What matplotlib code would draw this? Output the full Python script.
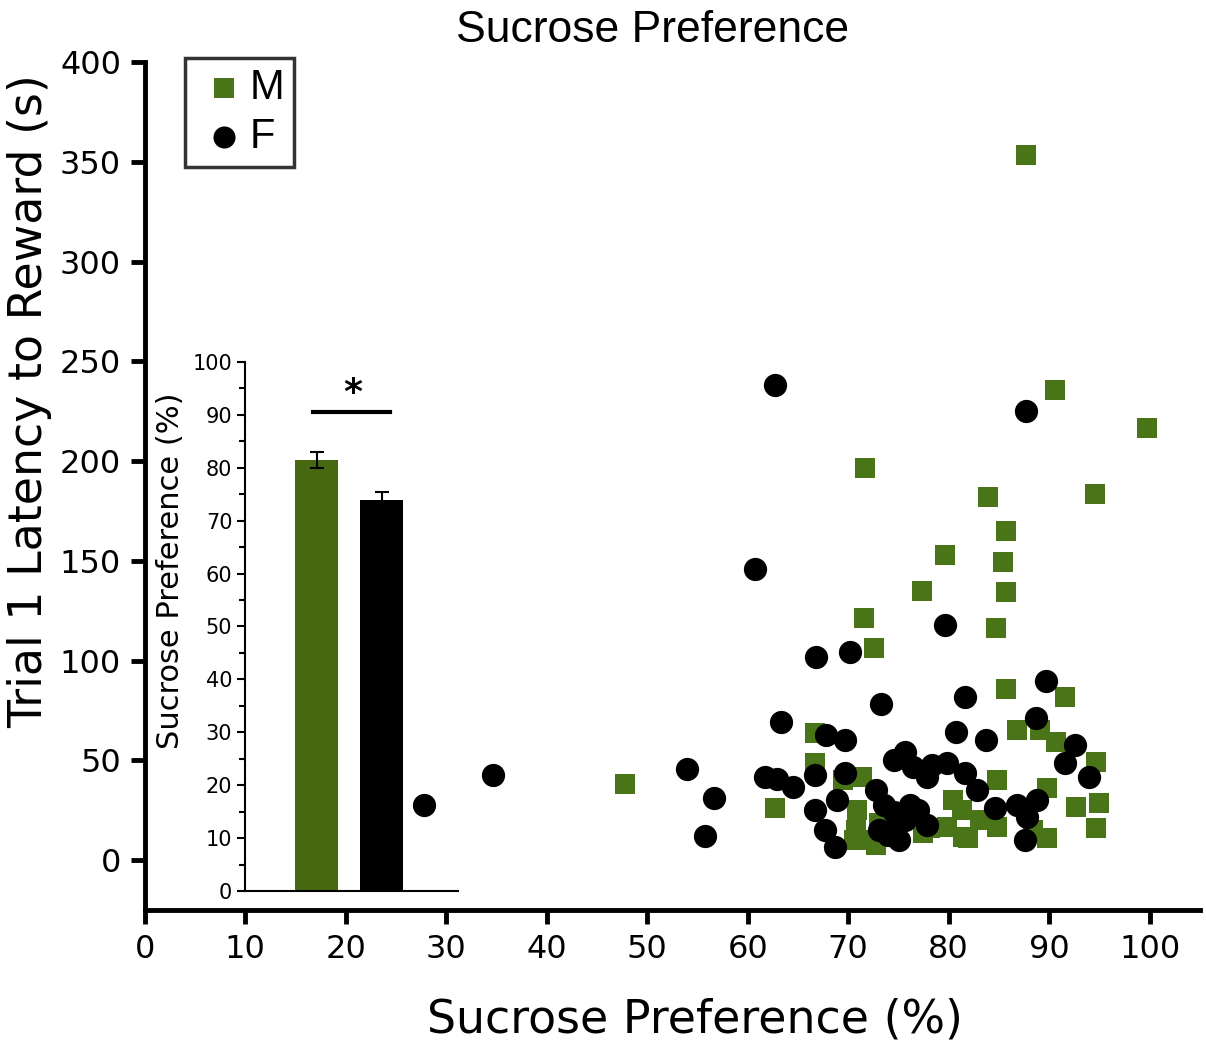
import matplotlib.pyplot as plt
from matplotlib.ticker import MultipleLocator

plt.rcParams['font.family'] = ['DejaVu Sans']

# male (green squares): sucrose preference (%), trial 1 latency (s)
male_pref = [87.7, 90.6, 99.7, 71.7, 83.9, 94.6, 79.6, 85.7, 85.4, 85.7, 77.3, 71.6,
             84.7, 72.6, 85.7, 91.6, 47.8, 62.7, 66.7, 66.7, 86.8, 89.1, 90.7, 94.7,
             92.7, 95.0, 94.7, 89.8, 89.8, 88.4, 84.8, 84.8, 83.1, 79.8, 81.4, 80.4,
             81.3, 78.1, 77.4, 81.9, 71.4, 70.9, 70.8, 71.8, 72.8, 69.5, 70.6, 73.1]
male_lat = [353.4, 235.6, 216.5, 196.5, 182.0, 183.5, 152.9, 164.9, 149.4, 134.3, 134.8, 121.3,
            116.3, 106.3, 85.7, 81.7, 38.1, 26.1, 63.7, 48.6, 65.2, 65.2, 59.1, 49.1,
            26.6, 28.6, 16.0, 36.1, 11.0, 15.0, 40.1, 16.5, 20.1, 16.5, 11.5, 30.1,
            25.1, 16.0, 13.5, 11.0, 41.6, 25.1, 15.0, 10.0, 7.5, 40.1, 10.0, 18.5]

# female (black circles)
female_pref = [27.8, 34.7, 54.0, 56.6, 55.7, 60.7, 62.7, 87.7, 79.6, 66.8, 70.2, 73.3,
               81.6, 89.7, 63.3, 88.7, 80.7, 83.7, 67.8, 69.7, 92.6, 91.6, 94.0, 61.7,
               62.9, 64.5, 66.7, 69.7, 66.7, 67.7, 68.7, 68.9, 72.8, 74.6, 75.6, 76.4,
               78.3, 79.8, 81.6, 82.8, 77.8, 73.6, 74.6, 76.1, 73.1, 74.6, 75.1, 75.6,
               76.9, 77.8, 84.6, 86.8, 88.8, 87.8, 87.6, 74.0]
female_lat = [27.6, 42.6, 45.6, 31.1, 12.0, 145.9, 238.1, 225.1, 117.8, 101.8, 104.3, 78.2,
              81.7, 89.7, 69.2, 71.2, 64.2, 60.2, 62.7, 60.2, 57.6, 48.6, 41.6, 41.6,
              40.6, 36.6, 42.6, 43.6, 25.1, 15.0, 6.5, 30.1, 35.1, 50.1, 54.1, 46.6,
              47.6, 48.6, 43.6, 35.1, 41.6, 27.6, 24.1, 27.6, 15.0, 15.0, 10.0, 20.1,
              25.1, 17.5, 26.1, 27.6, 30.1, 21.6, 10.0, 12.5]

# inset bar chart: mean sucrose preference by sex
bar_groups = ['M', 'F']
bar_means = [81.5, 73.9]
bar_sem = [1.5, 1.5]

green = '#4a7418'
bar_green = '#46690f'

fig = plt.figure(figsize=(12.06, 10.52), dpi=100)
ax = fig.add_axes([0.120, 0.135, 0.875, 0.806])

ax.scatter(male_pref, male_lat, marker='s', s=220, color=green, linewidths=0, label='M', zorder=2)
ax.scatter(female_pref, female_lat, marker='o', s=280, color='black', linewidths=0, label='F', zorder=3)

ax.set_xlim(0, 105)
ax.set_ylim(-25, 400)
ax.set_xticks(range(0, 101, 10))
ax.set_yticks(range(0, 401, 50))
for s in ['top', 'right']:
    ax.spines[s].set_visible(False)
for s in ['left', 'bottom']:
    ax.spines[s].set_linewidth(3.5)
ax.tick_params(width=3.5, length=10, labelsize=23, pad=7)
ax.set_xlabel('Sucrose Preference (%)', fontsize=33)
ax.xaxis.set_label_coords(0.521, -0.103)
ax.set_ylabel('Trial 1 Latency to Reward (s)', fontsize=33)
ax.yaxis.set_label_coords(-0.088, 0.60)
fig.text(0.541, 1 - 30 / 1052, 'Sucrose Preference', ha='center', va='center',
         fontsize=32, family='Liberation Sans')

leg = ax.legend(loc='upper left', bbox_to_anchor=(0.038, 1.005), fontsize=30, frameon=True,
                fancybox=False, handletextpad=-0.1, borderpad=0.25, labelspacing=0.2,
                handlelength=1.4, markerscale=0.95, borderaxespad=0)
leg.get_frame().set_edgecolor('black')
leg.get_frame().set_linewidth(2.5)
for t in leg.get_texts():
    t.set_family('Liberation Sans')

# inset
ins = fig.add_axes([0.203, 0.153, 0.177, 0.503])
ins.bar([0, 1], bar_means, width=0.66, color=[bar_green, 'black'],
        yerr=bar_sem, capsize=5, error_kw=dict(ecolor='black', elinewidth=1.5, capthick=1.5))
ins.set_xlim(-1.1, 2.17)
ins.set_ylim(0, 100)
ins.set_xticks([])
ins.yaxis.set_major_locator(MultipleLocator(10))
ins.yaxis.set_minor_locator(MultipleLocator(5))
ins.tick_params(axis='y', which='major', length=6, width=1.5, labelsize=15, pad=3)
ins.tick_params(axis='y', which='minor', length=4, width=1.5)
for s in ['top', 'right']:
    ins.spines[s].set_visible(False)
for s in ['left', 'bottom']:
    ins.spines[s].set_linewidth(1.5)
ins.patch.set_alpha(0)
ins.set_ylabel('Sucrose Preference (%)', fontsize=22)
ins.yaxis.set_label_coords(-0.28, 0.605)
ins.plot([-0.06, 1.12], [90.5, 90.5], color='black', lw=3)
ins.text(0.55, 91.0, '*', ha='center', va='bottom', fontsize=26, fontweight='bold')

fig.savefig('out.png', dpi=100)
